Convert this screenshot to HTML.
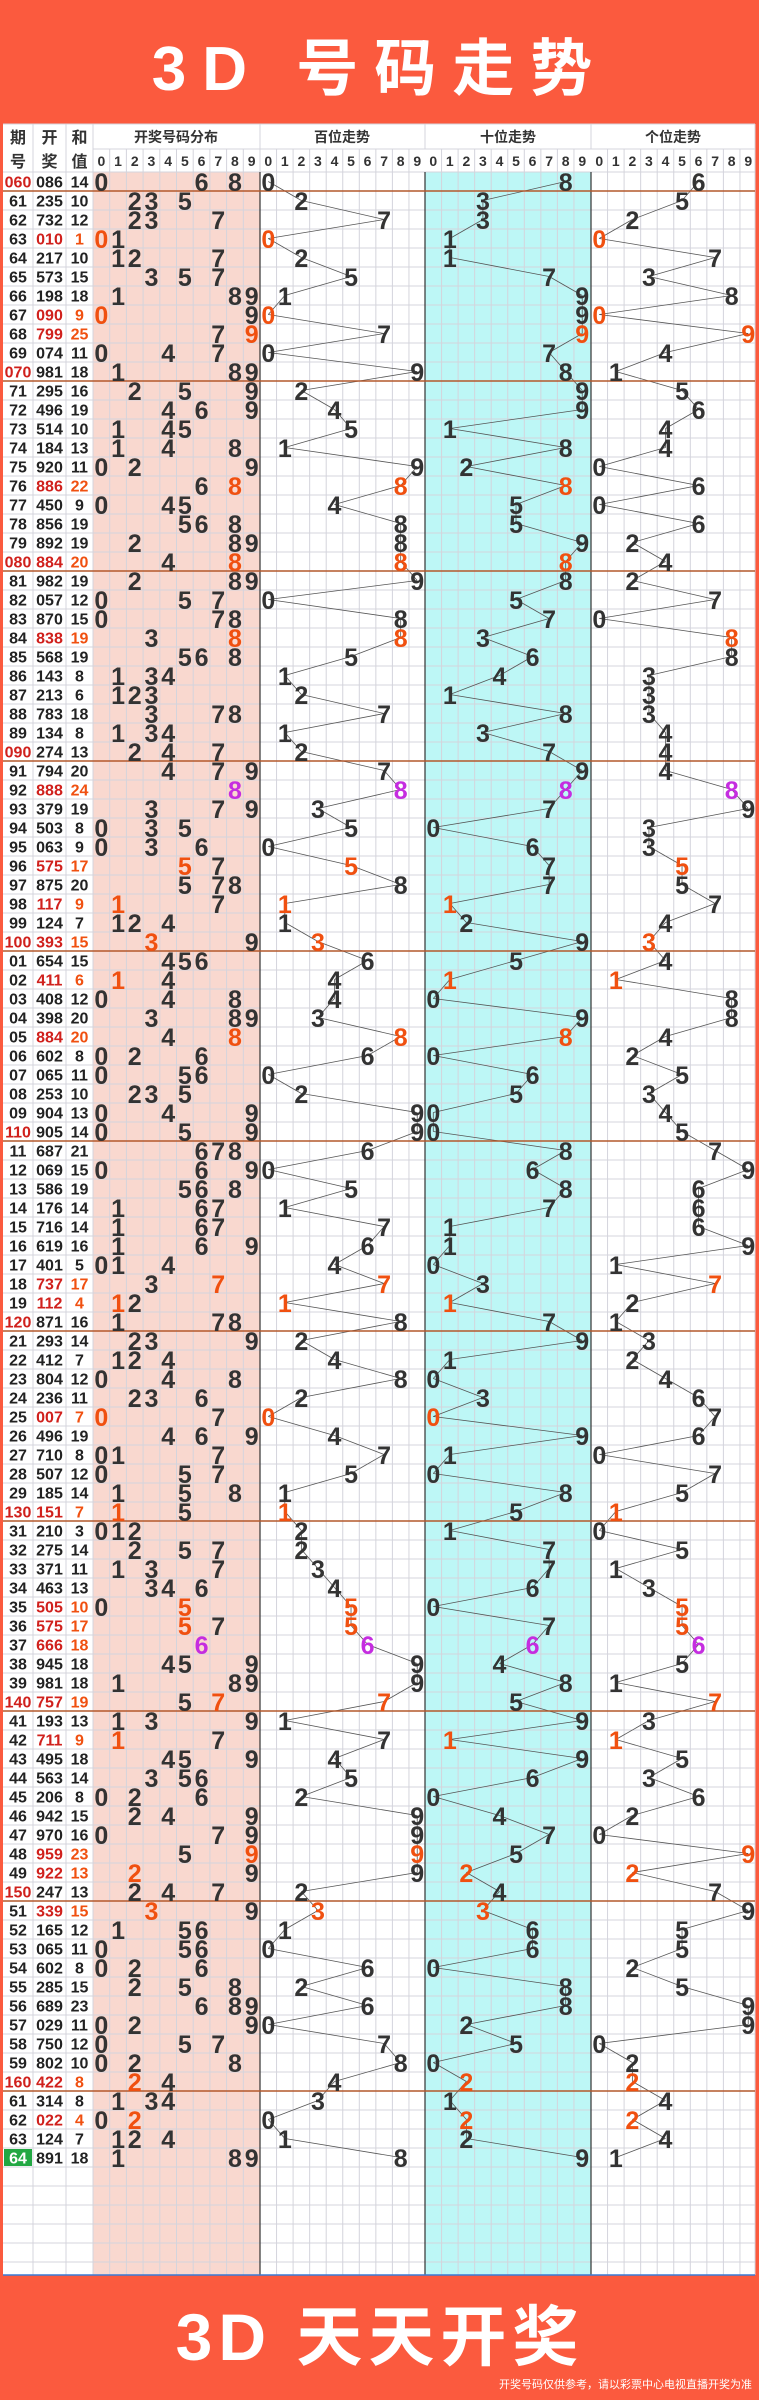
<!DOCTYPE html>
<html><head><meta charset="utf-8">
<style>
html,body{margin:0;padding:0;background:#fb5a3e;}
body{width:759px;height:2400px;overflow:hidden;}
svg{display:block;}
text{font-family:"Liberation Sans","Noto Sans CJK SC",sans-serif;}
</style></head>
<body>
<svg id="s" width="759" height="2400" xmlns="http://www.w3.org/2000/svg"></svg>
<script>
var data="060 086 14,61 235 10,62 732 12,63 010 1,64 217 10,65 573 15,66 198 18,67 090 9,68 799 25,69 074 11,070 981 18,71 295 16,72 496 19,73 514 10,74 184 13,75 920 11,76 886 22,77 450 9,78 856 19,79 892 19,080 884 20,81 982 19,82 057 12,83 870 15,84 838 19,85 568 19,86 143 8,87 213 6,88 783 18,89 134 8,090 274 13,91 794 20,92 888 24,93 379 19,94 503 8,95 063 9,96 575 17,97 875 20,98 117 9,99 124 7,100 393 15,01 654 15,02 411 6,03 408 12,04 398 20,05 884 20,06 602 8,07 065 11,08 253 10,09 904 13,110 905 14,11 687 21,12 069 15,13 586 19,14 176 14,15 716 14,16 619 16,17 401 5,18 737 17,19 112 4,120 871 16,21 293 14,22 412 7,23 804 12,24 236 11,25 007 7,26 496 19,27 710 8,28 507 12,29 185 14,130 151 7,31 210 3,32 275 14,33 371 11,34 463 13,35 505 10,36 575 17,37 666 18,38 945 18,39 981 18,140 757 19,41 193 13,42 711 9,43 495 18,44 563 14,45 206 8,46 942 15,47 970 16,48 959 23,49 922 13,150 247 13,51 339 15,52 165 12,53 065 11,54 602 8,55 285 15,56 689 23,57 029 11,58 750 12,59 802 10,160 422 8,61 314 8,62 022 4,63 124 7,64 891 18".split(",");
var Y0=172,RH=19,BOT=2275;
var o=[];
function t(x,y,s,size,col,w,anchor){o.push('<text x="'+x+'" y="'+y+'" font-size="'+size+'" fill="'+col+'" font-weight="'+(w||'bold')+'" text-anchor="'+(anchor||'middle')+'">'+s+'</text>');}
function l(x1,y1,x2,y2,c,w){o.push('<line x1="'+x1+'" y1="'+y1+'" x2="'+x2+'" y2="'+y2+'" stroke="'+c+'" stroke-width="'+w+'"/>');}
function r(x,y,w,h,c){o.push('<rect x="'+x+'" y="'+y+'" width="'+w+'" height="'+h+'" fill="'+c+'"/>');}
t(380,90,'3D 号码走势',62,'#fff');
o[o.length-1]=o[o.length-1].replace('<text','<text letter-spacing="16"');
r(3,124,752,BOT-124,'#fff');
r(93,Y0,167,BOT-Y0,'#f9d8cf');
r(425,Y0,166,BOT-Y0,'#bdf7f6');
var DW=16.7,TW=16.55;
for(var y=Y0;y<=BOT;y+=RH){l(3,y,755,y,'#d4d4dc',1);}
for(var k=0;k<=10;k++){l(93+k*DW,149,93+k*DW,BOT,'#d4d4dc',1);}
[260,425,591].forEach(function(b){for(var k=1;k<10;k++)l(b+k*TW,149,b+k*TW,BOT,'#d4d4dc',1);});
[33,66].forEach(function(x){l(x,124,x,BOT,'#d4d4dc',1);});
l(93,124,93,BOT,'#d4d4dc',1);
l(93,149,755,149,'#d4d4dc',1);
l(3,124,755,124,'#d4d4dc',1);
[260,425,591].forEach(function(x){l(x,124,x,149,'#d4d4dc',1);l(x,Y0,x,BOT,'#333',1.2);});
l(755,124,755,BOT,'#d4d4dc',1);
l(3,BOT,755,BOT,'#3a7bd5',1.5);
t(18,143,'期',16,'#333');t(18,167,'号',16,'#333');
t(49.5,143,'开',16,'#333');t(49.5,167,'奖',16,'#333');
t(79.5,143,'和',16,'#333');t(79.5,167,'值',16,'#333');
t(176,142,'开奖号码分布',14,'#333');t(342,142,'百位走势',14,'#333');t(508,142,'十位走势',14,'#333');t(673,142,'个位走势',14,'#333');
for(var k=0;k<10;k++){t(93+k*DW+DW/2,166,k,14,'#333');[260,425,591].forEach(function(b){t(b+k*TW+TW/2,166,k,14,'#333');});}
var prev=[null,null,null];
var lines=[],texts=[];
data.forEach(function(row,i){
 var p=row.split(' '),per=p[0],num=p[1],sum=p[2];
 var yc=Y0+i*RH+RH/2, yb=yc+6;
 var cnt={};for(var j=0;j<3;j++){cnt[num[j]]=(cnt[num[j]]||0)+1;}
 var rep=Object.keys(cnt).length<3;
 if(i==data.length-1){r(4,Y0+i*RH+1,28,RH-2,'#22a843');texts.push(['t',18,yb,per,16,'#fff']);}
 else texts.push(['t',18,yb,per,16,(i%10==0)?'#d0201c':'#222']);
 texts.push(['t',49.5,yb,num,16,rep?'#d0201c':'#222']);
 texts.push(['t',79.5,yb,sum,16,rep?'#f05010':'#222']);
 function col(d){return cnt[d]>=3?'#c52de0':(cnt[d]==2?'#f05010':'#333');}
 Object.keys(cnt).forEach(function(d){texts.push(['t',93+(+d)*DW+DW/2,yc+9.5,d,25,col(d)]);});
 [260,425,591].forEach(function(b,pi){
  var d=num[pi],x=b+(+d)*TW+TW/2;
  if(prev[pi])lines.push([prev[pi][0],prev[pi][1],x,yc]);
  prev[pi]=[x,yc];
  texts.push(['t',x,yc+9.5,d,25,col(d)]);
 });
});
lines.forEach(function(a){l(a[0],a[1],a[2],a[3],'#555',0.8);});
for(var i=0;i<data.length;i+=10){var y=Y0+(i+1)*RH;l(3,y,755,y,'#b4582c',1.6);}
texts.forEach(function(a){t(a[1],a[2],a[3],a[4],a[5]);});
t(380,2360,'3D 天天开奖',66,'#fff');
o[o.length-1]=o[o.length-1].replace('<text','<text letter-spacing="6"');
t(752,2388,'开奖号码仅供参考，请以彩票中心电视直播开奖为准',11,'#fff','normal','end');
document.getElementById('s').innerHTML=o.join('');
</script>
</body></html>
